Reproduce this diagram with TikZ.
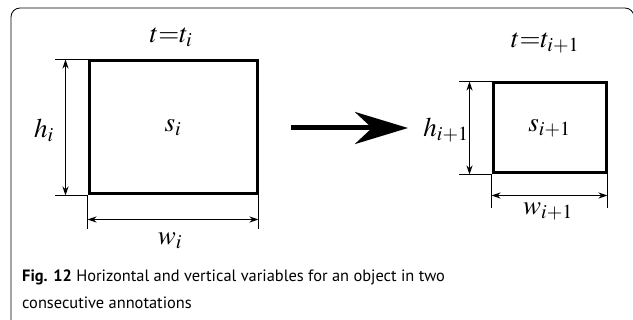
\documentclass[tikz,border=0pt]{standalone}
\usepackage{mathptmx}
\usepackage{fontspec}
\setsansfont{PT Sans}
\usepackage{tikz}
\usetikzlibrary{arrows.meta,positioning,calc}

\begin{document}
\begin{tikzpicture}[
  x=1pt,y=-1pt,
  obj/.style={draw,line width=3pt,inner sep=0pt},
  ext/.style={line width=1.6pt},
  dim/.style={{Stealth[length=9pt,width=6pt]}-{Stealth[length=9pt,width=6pt]},line width=1.6pt},
  lbl/.style={font=\fontsize{27}{30}\selectfont,inner sep=0pt},
  move/.style={-{Stealth[length=53pt,width=32pt,inset=17pt]},line width=5pt}
]
\useasboundingbox (0,0) rectangle (633,320);
\clip (0,0) rectangle (633,320);
% frame
\draw[line width=0.8pt,rounded corners=9pt] (11,340) rectangle (634,8);

% object at t_i
\node[obj,minimum width=168pt,minimum height=133pt] (boxi) at (173,127.5) {};
\node[lbl] (si) at (boxi.center) {$s_i$};
\node[lbl] (ti) at (171,37) {$t{=}t_i$};
\draw[ext] (boxi.north west) -- ++(-33,0);
\draw[ext] (boxi.south west) -- ++(-33,0);
\draw[ext] (boxi.south west) -- ++(0,34);
\draw[ext] (boxi.south east) -- ++(0,34);
\coordinate (hitop) at ($(boxi.north west)+(-22,0)$);
\coordinate (hibot) at ($(boxi.south west)+(-22,0)$);
\coordinate (wilft) at ($(boxi.south west)+(0,24)$);
\coordinate (wirgt) at ($(boxi.south east)+(0,24)$);
\draw[dim] (hitop) -- (hibot);
\draw[dim] (wilft) -- (wirgt);
\node[lbl] (hi) at (44,130) {$h_i$};
\node[lbl] (wi) at (170,241) {$w_i$};

% object at t_{i+1}
\node[obj,minimum width=113pt,minimum height=90pt] (boxn) at (549.5,128) {};
\node[lbl] (sn) at (boxn.center) {$s_{i+1}$};
\node[lbl] (tn) at (545,43) {$t{=}t_{i+1}$};
\draw[ext] (boxn.north west) -- ++(-33,0);
\draw[ext] (boxn.south west) -- ++(-33,0);
\draw[ext] (boxn.south west) -- ++(0,34);
\draw[ext] (boxn.south east) -- ++(0,34);
\coordinate (hntop) at ($(boxn.north west)+(-22,0)$);
\coordinate (hnbot) at ($(boxn.south west)+(-22,0)$);
\coordinate (wnlft) at ($(boxn.south west)+(0,21)$);
\coordinate (wnrgt) at ($(boxn.south east)+(0,21)$);
\draw[dim] (hntop) -- (hnbot);
\draw[dim] (wnlft) -- (wnrgt);
\node[lbl] (hn) at (446,130) {$h_{i+1}$};
\node[lbl] (wn) at (548,211) {$w_{i+1}$};

% change between annotations
\coordinate (gofrom) at (291,128);
\coordinate (goto) at (408,128);
\draw[move] (gofrom) -- (goto);

% caption
\node[anchor=north west,align=left,inner sep=0pt,font=\sffamily\fontsize{16.4}{27}\selectfont] (cap) at (22,270)
  {\textbf{Fig. 12} Horizontal and vertical variables for an object in two\\consecutive annotations};
\end{tikzpicture}
\end{document}
